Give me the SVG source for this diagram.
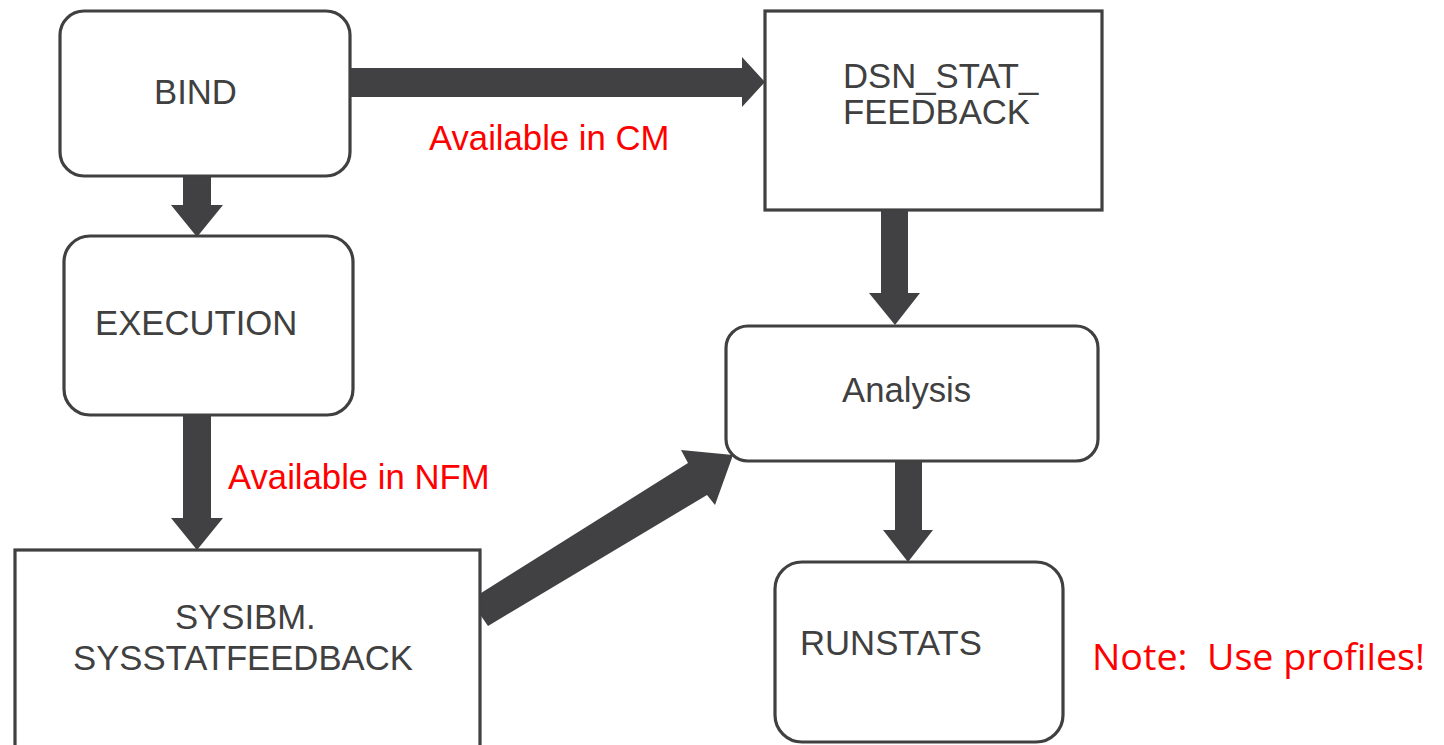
<svg xmlns="http://www.w3.org/2000/svg" width="1444" height="745" viewBox="0 0 1444 745">
<style>
.box{fill:#ffffff;stroke:#404040;stroke-width:3.2}
.lbl{font-family:"Liberation Sans",Arial,sans-serif;font-size:34.7px;fill:#404040}
.red{font-family:"Liberation Sans",Arial,sans-serif;font-size:34.7px;fill:#ff0000}
.note{font-family:"Open Sans","Noto Sans",sans-serif;font-size:37px;fill:#ff0000}
.arr{fill:#414143}
</style>
<rect width="1444" height="745" fill="#ffffff"/>
<g id="connectors">
<polygon class="arr" points="350,68 742,68 742,57 765,82 742,107 742,97 350,97"/>
<polygon class="arr" points="183,176 211,176 211,205 223,205 197,237 171,205 183,205"/>
<polygon class="arr" points="183,413 211,413 211,518 223,518 197,550 171,518 183,518"/>
<polygon class="arr" points="881,210 908,210 908,293 920,293 895,325 869,293 881,293"/>
<polygon class="arr" points="895,457 922,457 922,530 933,530 908,562 883,530 895,530"/>
<polygon class="arr" points="470,600 688,463 681,450 733,455 715,505 707,495 488,626"/>
</g>
<g id="node-bind">
<rect class="box" x="60" y="11" width="290" height="165" rx="24"/>
<text class="lbl" x="154" y="104">BIND</text>
</g>
<g id="node-execution">
<rect class="box" x="64" y="236" width="289" height="179" rx="26"/>
<text class="lbl" x="95" y="335">EXECUTION</text>
</g>
<g id="node-sysibm">
<rect class="box" x="15" y="550" width="465" height="210"/>
<text class="lbl" x="175" y="629">SYSIBM.</text>
<text class="lbl" x="73" y="670">SYSSTATFEEDBACK</text>
</g>
<g id="node-dsn">
<rect class="box" x="765" y="11" width="337" height="199"/>
<text class="lbl" x="843" y="88">DSN_STAT_</text>
<text class="lbl" x="843" y="124">FEEDBACK</text>
</g>
<g id="node-analysis">
<rect class="box" x="726" y="326" width="372" height="135" rx="22"/>
<text class="lbl" x="842" y="402">Analysis</text>
</g>
<g id="node-runstats">
<rect class="box" x="775" y="562" width="288" height="180" rx="27"/>
<text class="lbl" x="800" y="655">RUNSTATS</text>
</g>
<g id="labels">
<text class="red" x="429" y="150">Available in CM</text>
<text class="red" x="228" y="489">Available in NFM</text>
<text class="note" x="1092" y="670" textLength="333" lengthAdjust="spacingAndGlyphs" xml:space="preserve">Note:  Use profiles!</text>
</g>
</svg>
